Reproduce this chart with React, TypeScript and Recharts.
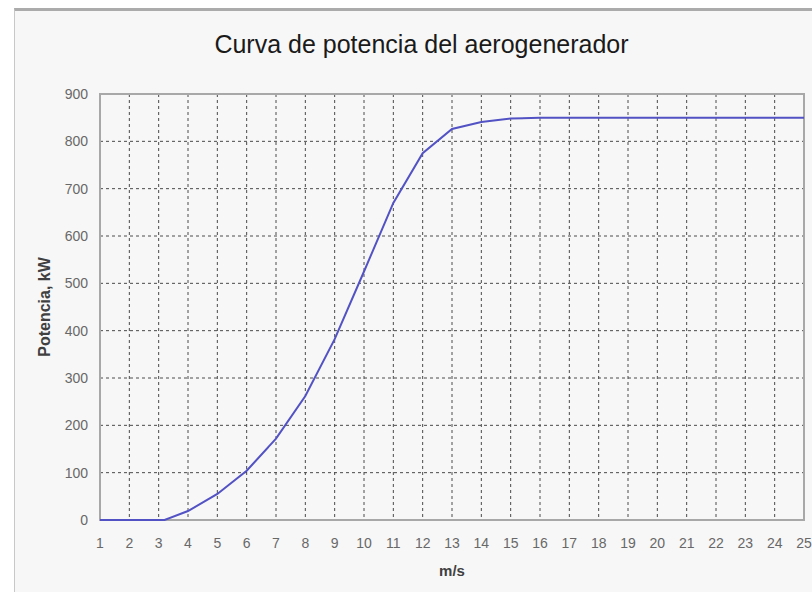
import React from "react";
import { LineChart, Line, XAxis, YAxis, CartesianGrid, ReferenceArea } from "recharts";

const windSpeeds = [1, 2, 3, 3.2, 4, 5, 6, 7, 8, 9, 10, 11, 12, 13, 14, 15, 16, 17, 18, 19, 20, 21, 22, 23, 24, 25];
const powerKW = [0, 0, 0, 0, 19, 55, 104, 172, 262, 382, 525, 670, 775, 826, 841, 848, 850, 850, 850, 850, 850, 850, 850, 850, 850, 850];
const xTicks = [1, 2, 3, 4, 5, 6, 7, 8, 9, 10, 11, 12, 13, 14, 15, 16, 17, 18, 19, 20, 21, 22, 23, 24, 25];
const yTicks = [0, 100, 200, 300, 400, 500, 600, 700, 800, 900];

const title = "Curva de potencia del aerogenerador";
const xLabel = "m/s";
const yLabel = "Potencia, kW";

const data = windSpeeds.map((v, i) => ({ v, p: powerKW[i] }));

const FONT = "'Liberation Sans', Arial, sans-serif";

export default function App() {
  return (
    <div
      style={{
        position: "fixed",
        left: 14,
        top: 8,
        width: 798,
        height: 582,
        background: "#f7f7f7",
        borderTop: "3px solid #ababab",
        borderLeft: "1px solid #c8c8c8",
        borderBottom: "1px solid #dddddd",
        fontFamily: FONT,
      }}
    >
      <div
        style={{
          position: "absolute",
          left: 0,
          top: 21,
          width: 813,
          textAlign: "center",
          fontSize: 25,
          lineHeight: "25px",
          color: "#1a1a1a",
          fontFamily: FONT,
        }}
      >
        {title}
      </div>
      <div style={{ position: "absolute", left: 0, top: 0 }}>
        <LineChart
          width={797}
          height={579}
          data={data}
          margin={{ top: 83, right: 8, bottom: 0, left: 0 }}
          style={{ fontFamily: FONT }}
        >
          <CartesianGrid stroke="#4a4a4a" strokeDasharray="3 3" strokeWidth={1} />
          <XAxis
            dataKey="v"
            type="number"
            domain={[1, 25]}
            ticks={xTicks}
            interval={0}
            axisLine={false}
            tickLine={false}
            tickMargin={12}
            height={70}
            tick={{ fill: "#686868", fontSize: 14 }}
            label={{
              value: xLabel,
              position: "insideBottom",
              offset: 14,
              style: { fill: "#404040", fontSize: 15, fontWeight: "bold" },
            }}
          />
          <YAxis
            type="number"
            domain={[0, 900]}
            ticks={yTicks}
            interval={0}
            axisLine={false}
            tickLine={false}
            tickMargin={6}
            width={85}
            tick={{ fill: "#686868", fontSize: 14 }}
            label={{
              value: yLabel,
              angle: -90,
              position: "insideLeft",
              offset: 29,
              style: { fill: "#404040", fontSize: 16, fontWeight: "bold", textAnchor: "middle" },
            }}
          />
          <ReferenceArea x1={1} x2={25} y1={0} y2={900} fill="none" stroke="#a8a8a8" strokeWidth={2} />
          <Line
            type="linear"
            dataKey="p"
            stroke="#5252c4"
            strokeWidth={2}
            dot={false}
            activeDot={false}
            isAnimationActive={false}
          />
        </LineChart>
      </div>
    </div>
  );
}
